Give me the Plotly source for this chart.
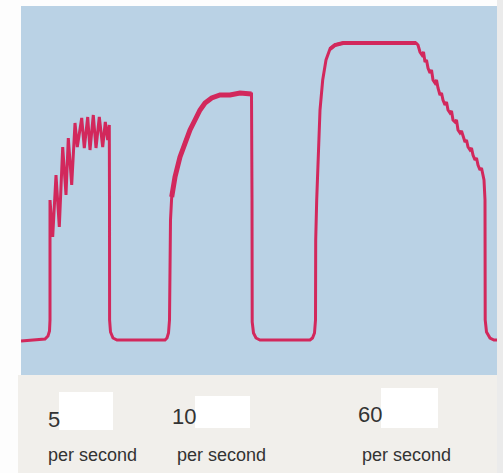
import plotly.graph_objects as go

# Muscle tension trace (time in arbitrary units, tension in arbitrary units)
time = [21, 40, 45, 48, 49.5, 50, 50, 52.7, 56, 59.3, 62.7, 66, 68.3, 71.7, 75, 77.3, 81.7, 84.3,
        87.7, 90, 93.3, 96, 99.3, 102.7, 105.3, 107.7, 109.3, 109.5, 109.6, 110.5, 113, 117,
        165, 167, 168.5, 169.5, 170.5, 171.7, 175, 180, 185, 190, 195, 200, 205,
        211.7, 220, 230, 240, 251.5, 252, 252.2, 253.5, 256, 260,
        310, 312.5, 314.5, 315.5, 315.7, 316.7, 318.3, 320, 322.7, 326, 330, 335, 343, 380, 416,
        418, 420, 422, 423.5, 425, 426.5, 428, 430, 431.5, 433, 435, 436.5, 438, 440, 441.5, 443,
        445, 446.5, 448, 450, 451.5, 453, 455, 456.5, 458, 460, 461.5, 463, 465, 466.5, 468, 470,
        471.5, 473, 475, 476.5, 478, 480, 481.5, 484, 485, 485.2, 486.5, 490, 494, 497]
tension = [34, 35, 36, 39, 44, 55, 175, 138, 200, 148, 228, 180, 237, 190, 252, 228, 257, 227,
           258, 225, 260, 227, 258, 228, 253, 235, 250, 175, 55, 43, 37, 35,
           35, 37, 42, 55, 155, 178, 198, 218, 233, 245, 255, 265, 272,
           277, 280, 280, 282, 281, 175, 53, 42, 37, 35,
           35, 37, 42, 55, 135, 175, 225, 265, 295, 315, 326, 330, 332, 332, 332,
           330, 323, 320, 323, 313, 315, 307, 302, 305, 295, 292, 295, 287, 280, 282, 275,
           270, 273, 265, 262, 264, 255, 253, 255, 245, 242, 244, 238, 233, 235, 228, 225,
           227, 220, 215, 217, 210, 205, 207, 195, 175, 55, 43, 37, 35, 35]

rate_numbers = ["5", "10", "60"]
rate_unit = "per second"

W, H = 503, 473
LINE = "#d2285c"

fig = go.Figure()
fig.add_trace(go.Scatter(x=time, y=tension, mode="lines",
                         line=dict(color=LINE, width=3), hoverinfo="skip"))

# thicker ink on the 10/s build-up and the 60/s plateau (as printed)
def segment(t0, t1):
    idx = [i for i, t in enumerate(time) if t0 <= t <= t1]
    return [time[i] for i in idx], [tension[i] for i in idx]

for (t0, t1), w in [((171, 251.6), 5), ((330, 417), 4)]:
    sx, sy = segment(t0, t1)
    fig.add_trace(go.Scatter(x=sx, y=sy, mode="lines", line=dict(color=LINE, width=w),
                             hoverinfo="skip"))

def px(x):
    return x / W

def py(y):
    return 1 - y / H

shapes = [
    # off-white caption band
    dict(type="rect", xref="paper", yref="paper", x0=px(18), x1=px(497), y0=py(473), y1=py(375),
         fillcolor="#f1efeb", line=dict(width=0), layer="below"),
    # right grey strip
    dict(type="rect", xref="paper", yref="paper", x0=px(497), x1=1, y0=0, y1=1,
         fillcolor="#ebebeb", line=dict(width=0), layer="below"),
]
# white boxes next to numbers
boxes = [(59, 113, 392, 430), (195, 250, 396, 428), (381, 438, 388, 428)]
for x0, x1, y0, y1 in boxes:
    shapes.append(dict(type="rect", xref="paper", yref="paper", x0=px(x0), x1=px(x1),
                       y0=py(y1), y1=py(y0), fillcolor="#ffffff", line=dict(width=0)))

num_font = dict(family="Liberation Sans, Arial, sans-serif", size=22, color="#333333")
unit_font = dict(family="Liberation Sans, Arial, sans-serif", size=18, color="#333333")
annotations = []
num_pos = [(46, 419), (170, 416), (356, 414)]
unit_x = [46, 175, 360]
for label, (x, y), ux in zip(rate_numbers, num_pos, unit_x):
    annotations.append(dict(text=label, xref="paper", yref="paper", x=px(x), y=py(y),
                            xanchor="left", yanchor="middle", showarrow=False, font=num_font))
    annotations.append(dict(text=rate_unit, xref="paper", yref="paper", x=px(ux), y=py(455),
                            xanchor="left", yanchor="middle", showarrow=False, font=unit_font))

fig.update_layout(
    width=W, height=H,
    margin=dict(l=0, r=0, t=0, b=0, pad=0),
    paper_bgcolor="#fdfdfd",
    plot_bgcolor="#bad2e5",
    showlegend=False,
    xaxis=dict(domain=[21 / W, 497 / W], range=[21, 497], visible=False, showgrid=False,
               zeroline=False, fixedrange=True),
    yaxis=dict(domain=[1 - 375 / H, 1 - 6 / H], range=[0, 369], visible=False, showgrid=False,
               zeroline=False, fixedrange=True),
    shapes=shapes,
    annotations=annotations,
)

fig.write_html("out.html", config=dict(displayModeBar=False),
               post_script="document.body.style.margin='0';document.body.style.overflow='hidden';")
